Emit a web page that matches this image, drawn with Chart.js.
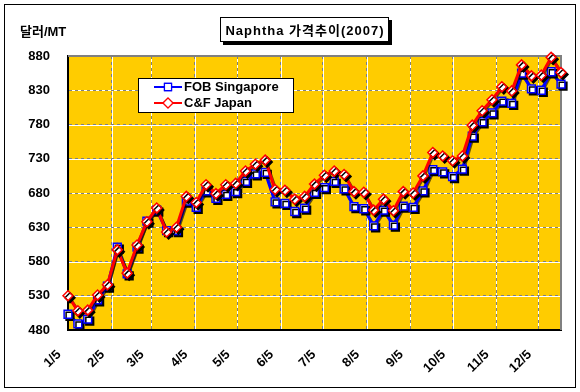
<!DOCTYPE html>
<html>
<head>
<meta charset="utf-8">
<script src="https://cdn.jsdelivr.net/npm/chart.js@4"></script>
<style>
  html, body { margin: 0; padding: 0; background: #fff; }
</style>
</head>
<body>
<canvas id="chart" width="580" height="392"></canvas>
<script>
const FONT = "'Liberation Sans', 'Noto Sans CJK KR', Arial, sans-serif";

// 주간 가격 (2007/1/5 부터 매주 금요일)
const fobSingapore = [503, 489, 496, 524, 544, 601, 562, 601, 639, 655, 625, 625, 668, 659, 683, 672, 678, 682, 697, 708,
  710, 667, 665, 653, 658, 681, 688, 697, 686, 660, 657, 632, 655, 633, 661, 659, 683, 714, 711, 704,
  715, 763, 784, 797, 814, 811, 855, 832, 830, 857, 839];
const cfJapan = [530, 508, 509, 531, 546, 597, 563, 604, 638, 658, 623, 630, 675, 666, 692, 679, 692, 694, 712, 722,
  728, 685, 684, 671, 675, 693, 706, 712, 707, 682, 681, 655, 671, 654, 682, 680, 705, 739, 734, 727,
  734, 779, 800, 816, 835, 829, 867, 851, 852, 878, 856];

// x축: 1/5 기준 일수
const monthDays = [0, 31, 59, 90, 120, 151, 181, 212, 243, 273, 304, 334];
const monthLabels = ['1/5', '2/5', '3/5', '4/5', '5/5', '6/5', '7/5', '8/5', '9/5', '10/5', '11/5', '12/5'];
const yTicks = [480, 530, 580, 630, 680, 730, 780, 830, 880];

const toPoints = arr => arr.map((v, i) => ({ x: i * 7, y: v }));

const decor = {
  id: 'decor',
  beforeDraw(c) {
    const { ctx, chartArea: a, scales } = c;
    ctx.save();
    ctx.fillStyle = '#fff';
    ctx.fillRect(0, 0, c.width, c.height);
    ctx.fillStyle = '#FFCC00';
    ctx.fillRect(a.left, a.top, a.width, a.height);
    // 점선 밑의 흰 선
    ctx.strokeStyle = '#fff';
    ctx.lineWidth = 1;
    ctx.beginPath();
    monthDays.forEach(d => {
      const x = Math.round(scales.x.getPixelForValue(d)) + 0.5;
      ctx.moveTo(x, a.top); ctx.lineTo(x, a.bottom);
    });
    yTicks.forEach(v => {
      const y = Math.round(scales.y.getPixelForValue(v)) + 0.5;
      ctx.moveTo(a.left, y); ctx.lineTo(a.right, y);
    });
    ctx.stroke();
    ctx.restore();
  },
  beforeDatasetsDraw(c) {
    const { ctx, chartArea: a } = c;
    ctx.save();
    ctx.strokeStyle = '#808080';
    ctx.lineWidth = 2;
    ctx.beginPath();
    ctx.moveTo(a.left, a.top);
    ctx.lineTo(a.right, a.top);
    ctx.lineTo(a.right, a.bottom);
    ctx.stroke();
    ctx.restore();
  },
  // 선은 그대로, 마커에만 그림자
  beforeDatasetDraw(c, args) {
    const ctx = c.ctx;
    const meta = args.meta;
    const area = c.chartArea;
    ctx.save();
    ctx.shadowColor = 'rgba(0,0,0,0.6)';
    ctx.shadowOffsetX = 1;
    ctx.shadowOffsetY = 1;
    meta.dataset.draw(ctx, area);
    ctx.shadowColor = '#000';
    ctx.shadowOffsetX = 2;
    ctx.shadowOffsetY = 2;
    ctx.shadowBlur = 0;
    meta.data.forEach(p => p.draw(ctx, area));
    ctx.restore();
    return false;
  },
  afterDraw(c) {
    const ctx = c.ctx;
    ctx.save();
    // 외곽선
    ctx.strokeStyle = '#000';
    ctx.lineWidth = 1;
    ctx.strokeRect(4.5, 4.5, 571, 383);

    // 단위
    ctx.fillStyle = '#000';
    ctx.font = 'bold 13px ' + FONT;
    ctx.textBaseline = 'middle';
    ctx.textAlign = 'left';
    ctx.fillText('달러/MT', 20, 32);

    // 제목 상자
    ctx.fillStyle = '#000';
    ctx.fillRect(223, 20, 169, 25);
    ctx.fillStyle = '#fff';
    ctx.fillRect(220, 17, 169, 25);
    ctx.strokeRect(220.5, 17.5, 168, 24);
    ctx.fillStyle = '#000';
    ctx.textAlign = 'center';
    ctx.letterSpacing = '1px';
    ctx.fillText('Naphtha 가격추이(2007)', 305, 31);
    ctx.letterSpacing = '0px';

    // 범례
    ctx.fillStyle = '#fff';
    ctx.fillRect(138, 78, 155, 34);
    ctx.strokeRect(138.5, 78.5, 155, 34);
    const items = [
      { label: 'FOB Singapore', color: '#0000FF', style: 'rect', r: 5, y: 87 },
      { label: 'C&F Japan', color: '#FF0000', style: 'rectRot', r: 5, y: 103 }
    ];
    items.forEach(it => {
      ctx.strokeStyle = it.color;
      ctx.lineWidth = 2;
      ctx.beginPath();
      ctx.moveTo(154, it.y); ctx.lineTo(182, it.y);
      ctx.stroke();
      ctx.fillStyle = '#fff';
      ctx.lineWidth = 1.2;
      Chart.helpers.drawPoint(ctx, { pointStyle: it.style, radius: it.r, borderWidth: 1.2 }, 168, it.y);
      ctx.fill();
      ctx.stroke();
      ctx.fillStyle = '#000';
      ctx.textAlign = 'left';
      ctx.fillText(it.label, 184, it.y);
    });
    ctx.restore();
  }
};

const chart = new Chart('chart', {
  type: 'line',
  data: {
    datasets: [
      {
        label: 'FOB Singapore',
        data: toPoints(fobSingapore),
        borderColor: '#0000FF',
        borderWidth: 3,
        pointStyle: 'rect',
        pointRadius: 5.5,
        pointBackgroundColor: '#fff',
        pointBorderColor: '#0000FF',
        pointBorderWidth: 1.5,
        order: 2,
        clip: false
      },
      {
        label: 'C&F Japan',
        data: toPoints(cfJapan),
        borderColor: '#FF0000',
        borderWidth: 3,
        pointStyle: 'rectRot',
        pointRadius: 5,
        pointBackgroundColor: '#fff',
        pointBorderColor: '#FF0000',
        pointBorderWidth: 1.5,
        order: 1,
        clip: false
      }
    ]
  },
  options: {
    responsive: false,
    animation: false,
    layout: { padding: { top: 56, right: 19, left: 0, bottom: 0 } },
    plugins: {
      legend: { display: false },
      tooltip: { enabled: false },
      title: { display: false }
    },
    scales: {
      x: {
        type: 'linear',
        min: 0,
        max: 350,
        afterBuildTicks: s => { s.ticks = monthDays.map(v => ({ value: v })); },
        afterFit: s => { s.height = 62; },
        ticks: {
          autoSkip: false,
          minRotation: 45,
          maxRotation: 45,
          labelOffset: -9,
          padding: 17,
          color: '#000',
          font: { family: FONT, size: 13, weight: 'bold' },
          callback: (v, i) => monthLabels[i]
        },
        grid: { color: '#808080', lineWidth: 1, drawTicks: false },
        border: { color: '#000', width: 2, dash: [3, 3] }
      },
      y: {
        min: 480,
        max: 880,
        afterBuildTicks: s => { s.ticks = yTicks.map(v => ({ value: v })); },
        afterFit: s => { s.width = 68; },
        ticks: {
          padding: 18,
          color: '#000',
          font: { family: FONT, size: 13, weight: 'bold' }
        },
        grid: { color: '#808080', lineWidth: 1, drawTicks: false },
        border: { color: '#000', width: 2, dash: [3, 3] }
      }
    }
  },
  plugins: [decor]
});
</script>
</body>
</html>
